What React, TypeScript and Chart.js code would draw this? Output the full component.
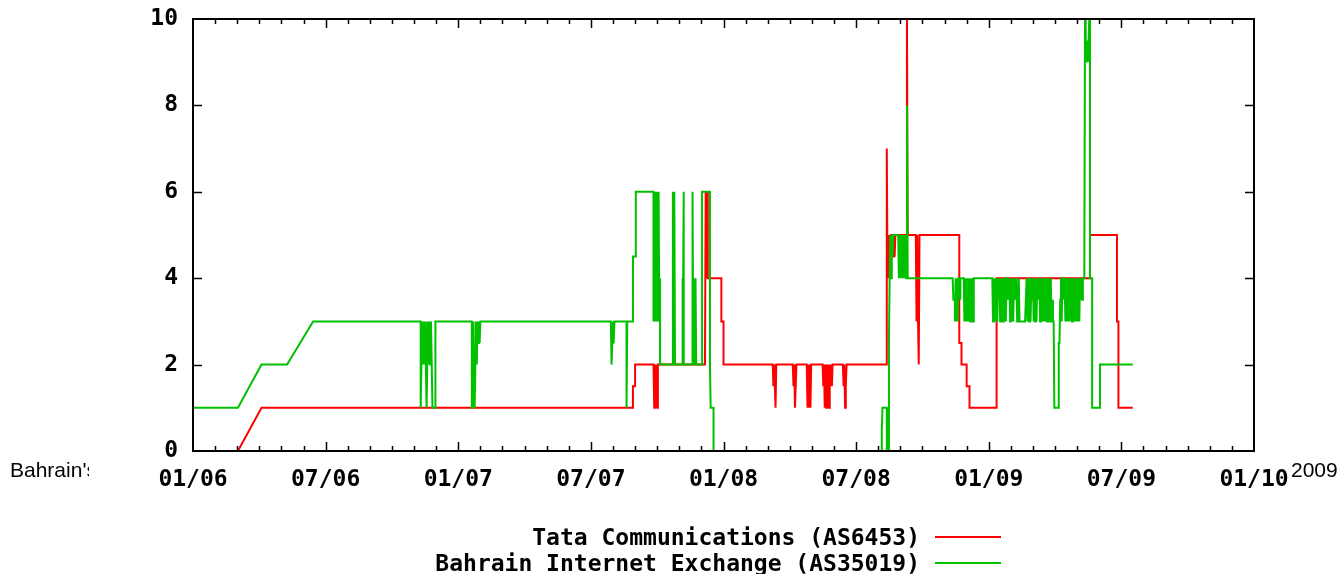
import React, { useEffect, useRef } from "react";
import { Chart, registerables } from "chart.js";

Chart.register(...registerables);

// ---------- data ----------
const xTickLabels = ["01/06", "07/06", "01/07", "07/07", "01/08", "07/08", "01/09", "07/09", "01/10"];
const yTickValues = [0, 2, 4, 6, 8, 10];
const seriesNames = ["Tata Communications (AS6453)", "Bahrain Internet Exchange (AS35019)"];
const seriesColors = ["#ff0000", "#00c000"];
const captionLeft = "Bahrain's";
const captionRight = "2009";

// Tata Communications (AS6453): [date, count]
const tataPoints: [string, number][] = [
  ["2006-03-02", 0], ["2006-04-04", 1],
  ["2007-08-29", 1], ["2007-08-29", 1.5], ["2007-09-01", 1.5], ["2007-09-01", 2],
  ["2007-09-26", 2], ["2007-09-27", 1], ["2007-09-28", 2], ["2007-09-29", 1], ["2007-09-30", 2], ["2007-10-01", 1], ["2007-10-02", 2],
  ["2007-12-06", 2], ["2007-12-07", 6], ["2007-12-08", 4], ["2007-12-09", 6], ["2007-12-10", 4],
  ["2007-12-29", 4], ["2007-12-29", 3], ["2008-01-01", 3], ["2008-01-01", 2],
  ["2008-03-08", 2], ["2008-03-09", 1.5], ["2008-03-10", 2], ["2008-03-11", 1.5], ["2008-03-12", 1], ["2008-03-13", 2],
  ["2008-04-05", 2], ["2008-04-06", 1.5], ["2008-04-07", 2], ["2008-04-08", 1], ["2008-04-09", 1.5], ["2008-04-10", 2],
  ["2008-04-24", 2], ["2008-04-25", 1], ["2008-04-26", 2], ["2008-04-27", 1], ["2008-04-28", 2], ["2008-04-29", 1], ["2008-04-30", 2],
  ["2008-05-16", 2], ["2008-05-17", 1.5], ["2008-05-18", 2], ["2008-05-19", 1], ["2008-05-20", 2], ["2008-05-21", 1], ["2008-05-22", 2],
  ["2008-05-23", 1], ["2008-05-24", 2], ["2008-05-25", 1], ["2008-05-26", 2], ["2008-05-27", 1.5], ["2008-05-28", 2], ["2008-05-29", 1.5], ["2008-05-30", 2],
  ["2008-06-13", 2], ["2008-06-14", 1.5], ["2008-06-15", 2], ["2008-06-16", 1], ["2008-06-17", 1.5], ["2008-06-18", 2],
  ["2008-08-12", 2], ["2008-08-13", 7], ["2008-08-14", 4], ["2008-08-15", 5], ["2008-08-16", 4], ["2008-08-17", 5], ["2008-08-18", 4],
  ["2008-08-19", 5], ["2008-08-21", 5], ["2008-08-22", 4.5], ["2008-08-23", 5], ["2008-08-24", 4.5], ["2008-08-25", 5],
  ["2008-09-09", 5], ["2008-09-10", 10], ["2008-09-11", 5],
  ["2008-09-22", 5], ["2008-09-23", 3], ["2008-09-24", 5], ["2008-09-25", 3], ["2008-09-26", 2], ["2008-09-27", 5],
  ["2008-11-21", 5], ["2008-11-21", 2.5], ["2008-11-24", 2.5], ["2008-11-24", 2], ["2008-12-01", 2], ["2008-12-01", 1.5], ["2008-12-05", 1.5], ["2008-12-05", 1],
  ["2009-01-12", 1], ["2009-01-12", 4], ["2009-05-19", 4], ["2009-05-19", 5], ["2009-06-25", 5], ["2009-06-25", 3], ["2009-06-27", 3], ["2009-06-27", 1], ["2009-07-17", 1],
];

// Bahrain Internet Exchange (AS35019): [date, count] up to early 2009
const bixPointsBefore: [string, number][] = [
  ["2006-01-01", 1], ["2006-03-02", 1], ["2006-04-04", 2], ["2006-05-09", 2], ["2006-06-14", 3],
  ["2006-11-10", 3], ["2006-11-10", 1], ["2006-11-11", 2], ["2006-11-12", 3], ["2006-11-13", 2], ["2006-11-14", 3], ["2006-11-15", 2],
  ["2006-11-16", 3], ["2006-11-17", 2], ["2006-11-18", 1], ["2006-11-19", 2], ["2006-11-20", 3], ["2006-11-21", 2], ["2006-11-22", 3],
  ["2006-11-23", 2], ["2006-11-24", 3], ["2006-11-25", 2], ["2006-11-26", 1], ["2006-11-30", 1], ["2006-11-30", 3],
  ["2007-01-20", 3], ["2007-01-20", 1], ["2007-01-22", 1], ["2007-01-22", 3], ["2007-01-23", 2], ["2007-01-24", 1], ["2007-01-25", 2],
  ["2007-01-26", 3], ["2007-01-27", 2], ["2007-01-28", 3], ["2007-01-29", 2.5], ["2007-01-30", 3], ["2007-01-31", 2.5], ["2007-02-01", 3],
  ["2007-07-29", 3], ["2007-07-30", 2], ["2007-07-31", 2.5], ["2007-08-01", 3], ["2007-08-02", 2.5], ["2007-08-03", 3],
  ["2007-08-20", 3], ["2007-08-20", 1], ["2007-08-21", 3],
  ["2007-08-29", 3], ["2007-08-29", 4.5], ["2007-09-02", 4.5], ["2007-09-02", 6],
  ["2007-09-26", 6], ["2007-09-26", 3], ["2007-09-27", 6], ["2007-09-28", 3], ["2007-09-29", 6], ["2007-09-30", 3], ["2007-10-01", 6],
  ["2007-10-02", 3], ["2007-10-03", 6], ["2007-10-04", 3], ["2007-10-05", 4], ["2007-10-05", 2],
  ["2007-10-23", 2], ["2007-10-23", 6], ["2007-10-24", 2], ["2007-10-25", 6], ["2007-10-26", 2],
  ["2007-11-05", 2], ["2007-11-05", 4], ["2007-11-06", 2], ["2007-11-07", 6], ["2007-11-07", 2],
  ["2007-11-19", 2], ["2007-11-19", 6], ["2007-11-20", 2], ["2007-11-21", 4], ["2007-11-22", 2], ["2007-11-23", 4], ["2007-11-24", 2],
  ["2007-12-02", 2], ["2007-12-02", 6], ["2007-12-13", 6], ["2007-12-13", 2], ["2007-12-14", 1], ["2007-12-18", 1], ["2007-12-18", 0],
  ["2008-08-05", 0], ["2008-08-06", 0.5], ["2008-08-07", 1], ["2008-08-13", 1], ["2008-08-13", 0], ["2008-08-14", 1], ["2008-08-15", 0],
  ["2008-08-16", 2.5], ["2008-08-17", 4], ["2008-08-18", 5], ["2008-08-19", 4], ["2008-08-20", 5], ["2008-08-21", 4.5], ["2008-08-22", 5],
  ["2008-08-29", 5], ["2008-08-30", 4], ["2008-08-31", 5], ["2008-09-01", 4], ["2008-09-02", 5], ["2008-09-03", 4], ["2008-09-04", 5],
  ["2008-09-05", 4], ["2008-09-06", 5], ["2008-09-07", 4], ["2008-09-08", 5], ["2008-09-09", 4], ["2008-09-10", 8], ["2008-09-11", 4],
  ["2008-11-12", 4], ["2008-11-13", 3.5], ["2008-11-15", 3.5], ["2008-11-15", 3], ["2008-11-16", 4], ["2008-11-17", 3], ["2008-11-18", 4],
  ["2008-11-19", 3], ["2008-11-20", 4], ["2008-11-22", 4], ["2008-11-22", 3.5], ["2008-11-23", 4],
  ["2008-11-27", 4], ["2008-11-28", 3], ["2008-11-29", 4], ["2008-11-30", 3], ["2008-12-01", 4], ["2008-12-02", 3], ["2008-12-03", 4],
  ["2008-12-04", 3], ["2008-12-05", 4], ["2008-12-06", 3], ["2008-12-07", 4], ["2008-12-08", 3], ["2008-12-09", 4], ["2008-12-10", 3], ["2008-12-11", 4],
  ["2009-01-06", 4],
];

// Bahrain Internet Exchange daily counts, 2009-01-07 .. 2009-05-11
const bixDaily2009Start = "2009-01-07";
const bixDaily2009: number[] = [
  3, 4, 3, 4, 3, 4, 3, 4, 3.5, 4, 3, 4, 3, 4, 3, 4, 3, 4, 3, 4,
  4, 3.5, 3.5, 4, 3, 4,
  3, 4, 3,
  4, 4, 3.5, 4, 3, 3.5, 4,
  3, 3, 3, 3, 3, 3, 3, 3, 3,
  4, 3, 4, 3, 4, 3, 4, 3.5, 4, 3, 4, 3, 4, 3, 4,
  4, 3.5, 4, 3,
  4, 3, 4, 3, 4, 3, 4, 3, 4, 3, 4, 3, 4, 3, 4, 3, 3.5, 3, 3,
  1, 1, 1, 1, 1, 1,
  2.5, 2.5,
  3.5,
  4, 3, 4, 4, 3.5, 4, 3,
  4, 3, 4, 3, 4, 3, 3.5, 4, 3, 4, 3, 4, 3, 4, 3, 4, 3, 4, 3, 4,
  3.5, 4, 3.5, 4,
  4, 4,
];

const bixPointsAfter: [string, number][] = [
  ["2009-05-12", 10], ["2009-05-13", 9.5], ["2009-05-14", 9], ["2009-05-15", 9.5], ["2009-05-16", 9], ["2009-05-17", 9.5],
  ["2009-05-18", 10], ["2009-05-19", 10], ["2009-05-19", 4], ["2009-05-22", 4], ["2009-05-22", 1], ["2009-06-02", 1],
  ["2009-06-02", 2], ["2009-07-17", 2],
];

// ---------- helpers ----------
function monthIndex(date: string): number {
  const [y, m, d] = date.split("-").map(Number);
  const days = new Date(Date.UTC(y, m, 0)).getUTCDate();
  return (y - 2006) * 12 + (m - 1) + (d - 1) / days;
}

function toXY(points: [string, number][]) {
  return points.map(([d, v]) => ({ x: monthIndex(d), y: v }));
}

function dailyToXY(start: string, values: number[]) {
  const [y, m, d] = start.split("-").map(Number);
  return values.map((v, i) => {
    const dt = new Date(Date.UTC(y, m - 1, d + i));
    return { x: monthIndex(dt.toISOString().slice(0, 10)), y: v };
  });
}

const MONO = "'DejaVu Sans Mono', 'Liberation Mono', monospace";

const framePlugin = {
  id: "gnuplotFrame",
  afterDatasetsDraw(chart: any) {
    const { ctx, chartArea: a, scales } = chart;
    const xs = scales.x;
    const ys = scales.y;
    ctx.save();
    ctx.strokeStyle = "#000";
    ctx.lineWidth = 1.5;
    ctx.beginPath();
    for (let m = Math.ceil(xs.min) + 1; m < xs.max; m++) {
      const x = Math.round(xs.getPixelForValue(m)) + 0.5;
      const len = m % 6 === 0 ? 9 : 5;
      ctx.moveTo(x, a.bottom);
      ctx.lineTo(x, a.bottom - len);
      ctx.moveTo(x, a.top);
      ctx.lineTo(x, a.top + len);
    }
    for (const v of yTickValues) {
      if (v <= ys.min || v >= ys.max) continue;
      const y = Math.round(ys.getPixelForValue(v)) + 0.5;
      ctx.moveTo(a.left, y);
      ctx.lineTo(a.left + 9, y);
      ctx.moveTo(a.right, y);
      ctx.lineTo(a.right - 9, y);
    }
    ctx.stroke();
    ctx.lineWidth = 2;
    ctx.strokeRect(a.left, a.top, a.right - a.left, a.bottom - a.top);
    ctx.restore();
  },
};

export default function App() {
  const canvasRef = useRef<HTMLCanvasElement | null>(null);

  useEffect(() => {
    const canvas = canvasRef.current;
    if (!canvas) return;
    const tataXY = toXY(tataPoints);
    const bixXY = [
      ...toXY(bixPointsBefore),
      ...dailyToXY(bixDaily2009Start, bixDaily2009),
      ...toXY(bixPointsAfter),
    ];
    const chart = new Chart(canvas, {
      type: "line",
      data: {
        datasets: [
          {
            label: seriesNames[0],
            data: tataXY,
            borderColor: seriesColors[0],
            backgroundColor: seriesColors[0],
            borderWidth: 2,
            pointRadius: 0,
            tension: 0,
            fill: false,
            order: 2,
          },
          {
            label: seriesNames[1],
            data: bixXY,
            borderColor: seriesColors[1],
            backgroundColor: seriesColors[1],
            borderWidth: 2,
            pointRadius: 0,
            tension: 0,
            fill: false,
            order: 1,
          },
        ],
      },
      options: {
        responsive: false,
        animation: false,
        events: [],
        layout: { padding: { left: 0, right: 88, top: 19, bottom: 0 } },
        plugins: { legend: { display: false }, tooltip: { enabled: false } },
        scales: {
          x: {
            type: "linear",
            min: 0,
            max: 48,
            afterFit: (s: any) => {
              s.height = 123;
              s.paddingLeft = 0;
              s.paddingRight = 0;
            },
            grid: { display: false, drawTicks: false },
            border: { display: false },
            ticks: {
              stepSize: 6,
              autoSkip: false,
              maxRotation: 0,
              padding: 15,
              color: "#000",
              font: { family: MONO, weight: "bold", size: 23 },
              callback: (v: any) => xTickLabels[Math.round(Number(v) / 6)] ?? "",
            },
          },
          y: {
            type: "linear",
            min: 0,
            max: 10,
            afterFit: (s: any) => {
              s.width = 193;
              s.paddingTop = 0;
              s.paddingBottom = 0;
            },
            grid: { display: false, drawTicks: false },
            border: { display: false },
            ticks: {
              stepSize: 2,
              padding: 15,
              color: "#000",
              font: { family: MONO, weight: "bold", size: 23 },
              callback: (v: any) => String(v),
            },
          },
        },
      },
      plugins: [framePlugin],
    });
    return () => chart.destroy();
  }, []);

  const legendText: React.CSSProperties = {
    position: "absolute",
    right: 1342 - 920,
    fontFamily: MONO,
    fontWeight: "bold",
    fontSize: 23,
    lineHeight: "27px",
    whiteSpace: "pre",
    color: "#000",
  };
  const caption: React.CSSProperties = {
    position: "absolute",
    top: 458,
    fontFamily: "'Liberation Sans', Arial, sans-serif",
    fontSize: 21,
    lineHeight: "24px",
    whiteSpace: "nowrap",
    color: "#000",
  };

  return (
    <div style={{ position: "absolute", left: 0, top: 0, width: 1342, height: 574, background: "#fff", overflow: "hidden" }}>
      <canvas ref={canvasRef} width={1342} height={574} style={{ position: "absolute", left: 0, top: 0, width: 1342, height: 574 }} />
      <div style={{ ...caption, left: 10, width: 79, overflow: "hidden" }}>{captionLeft}</div>
      <div style={{ ...caption, left: 1291 }}>{captionRight}</div>
      <div style={{ ...legendText, top: 524 }}>{seriesNames[0]}</div>
      <div style={{ position: "absolute", left: 935, top: 536, width: 66, height: 2, background: seriesColors[0] }} />
      <div style={{ ...legendText, top: 550 }}>{seriesNames[1]}</div>
      <div style={{ position: "absolute", left: 935, top: 562, width: 66, height: 2, background: seriesColors[1] }} />
    </div>
  );
}
